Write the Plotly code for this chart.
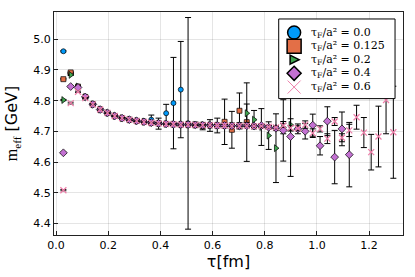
import plotly.graph_objects as go

# lattice Euclidean times (fm)
tau = [0.028, 0.056, 0.084, 0.112, 0.141, 0.169, 0.197, 0.225, 0.253, 0.281,
       0.309, 0.337, 0.365, 0.393, 0.422, 0.450, 0.478, 0.506, 0.534, 0.562,
       0.590, 0.618, 0.646, 0.674, 0.703, 0.731, 0.759, 0.787, 0.815, 0.843,
       0.871, 0.899, 0.927, 0.955, 0.984, 1.012, 1.040, 1.068, 1.096, 1.124,
       1.152, 1.180, 1.208, 1.236, 1.265, 1.293]

labels = ["0.0", "0.125", "0.2", "0.4", "0.6"]

# tau_F/a^2 = 0.0
m_00 = [4.961, 4.890, 4.845, 4.813, 4.789, 4.772, 4.761, 4.751, 4.744, 4.739,
        4.735, 4.733, 4.738, 4.725, 4.759, 4.792, 4.836, 4.726]
e_00 = [0.002, 0.002, 0.002, 0.002, 0.002, 0.002, 0.002, 0.002, 0.003, 0.003,
        0.004, 0.005, 0.015, 0.018, 0.029, 0.149, 0.157, 0.345]

# tau_F/a^2 = 0.125
m_0125 = [4.870, 4.892, 4.846, 4.812, 4.788, 4.771, 4.760, 4.750, 4.743, 4.738,
          4.734, 4.731, 4.728, 4.726, 4.724, 4.723, 4.722, 4.722, 4.721, 4.717,
          4.719, 4.719, 4.731, 4.705, 4.767, 4.730]
e_0125 = [0.002, 0.002, 0.002, 0.002, 0.002, 0.002, 0.002, 0.002, 0.002, 0.002,
          0.002, 0.003, 0.003, 0.004, 0.004, 0.005, 0.006, 0.007, 0.009, 0.012,
          0.019, 0.024, 0.074, 0.060, 0.058, 0.128]

# tau_F/a^2 = 0.2
m_02 = [4.802, 4.884, 4.846, 4.812, 4.788, 4.771, 4.760, 4.750, 4.743, 4.738,
        4.734, 4.731, 4.728, 4.726, 4.724, 4.723, 4.722, 4.722, 4.721, 4.720,
        4.720, 4.719, 4.719, 4.718, 4.718, 4.759, 4.738, 4.714, 4.686, 4.645,
        4.712, 4.721]
e_02 = [0.002, 0.002, 0.002, 0.002, 0.002, 0.002, 0.002, 0.002, 0.002, 0.002,
        0.002, 0.002, 0.002, 0.003, 0.003, 0.003, 0.004, 0.004, 0.005, 0.005,
        0.006, 0.007, 0.008, 0.009, 0.010, 0.030, 0.030, 0.060, 0.045, 0.112,
        0.020, 0.020]

# tau_F/a^2 = 0.4
m_04 = [4.630, 4.846, 4.843, 4.812, 4.788, 4.771, 4.760, 4.750, 4.743, 4.738,
        4.734, 4.731, 4.728, 4.726, 4.724, 4.723, 4.722, 4.722, 4.721, 4.720,
        4.720, 4.719, 4.719, 4.718, 4.718, 4.718, 4.717, 4.719, 4.713, 4.710,
        4.703, 4.683, 4.708, 4.700, 4.720, 4.653, 4.733, 4.616, 4.708, 4.624]
e_04 = [0.002, 0.002, 0.002, 0.002, 0.002, 0.002, 0.002, 0.002, 0.002, 0.002,
        0.002, 0.002, 0.002, 0.002, 0.002, 0.002, 0.003, 0.003, 0.003, 0.003,
        0.003, 0.003, 0.004, 0.004, 0.004, 0.004, 0.005, 0.005, 0.006, 0.007,
        0.100, 0.130, 0.016, 0.025, 0.036, 0.030, 0.047, 0.087, 0.055, 0.105]

# tau_F/a^2 = 0.6
m_06 = [4.508, 4.792, 4.829, 4.808, 4.788, 4.771, 4.760, 4.750, 4.743, 4.738,
        4.734, 4.731, 4.728, 4.726, 4.724, 4.723, 4.722, 4.722, 4.721, 4.720,
        4.720, 4.719, 4.719, 4.718, 4.718, 4.718, 4.717, 4.717, 4.715, 4.713,
        4.719, 4.711, 4.710, 4.722, 4.694, 4.708, 4.676, 4.732, 4.679, 4.703,
        4.746, 4.696, 4.632, 4.683, 4.802, 4.697]
e_06 = [0.002, 0.003, 0.002, 0.002, 0.002, 0.002, 0.002, 0.002, 0.002, 0.002,
        0.002, 0.002, 0.002, 0.002, 0.002, 0.002, 0.002, 0.002, 0.002, 0.002,
        0.003, 0.003, 0.003, 0.003, 0.003, 0.003, 0.004, 0.004, 0.004, 0.005,
        0.006, 0.007, 0.008, 0.012, 0.014, 0.010, 0.016, 0.013, 0.013, 0.020,
        0.039, 0.049, 0.058, 0.099, 0.110, 0.150]

xticks = [0.0, 0.2, 0.4, 0.6, 0.8, 1.0, 1.2]
xticklabels = ["0.0", "0.2", "0.4", "0.6", "0.8", "1.0", "1.2"]
yticks = [4.4, 4.5, 4.6, 4.7, 4.8, 4.9, 5.0]
yticklabels = ["4.4", "4.5", "4.6", "4.7", "4.8", "4.9", "5.0"]

colors = ["#009AFA", "#E36F47", "#3EA44E", "#C371D2", "#EE7FAA"]
symbols = ["circle", "square", "triangle-right", "diamond", "x-thin"]
plot_sizes = [5, 5, 6, 6, 6]

series = [(m_00, e_00), (m_0125, e_0125), (m_02, e_02), (m_04, e_04), (m_06, e_06)]

W, H = 415, 277
ML, MR, MT, MB = 53, 11, 11, 42
PW, PH = W - ML - MR, H - MT - MB


def px(xp):
    return (xp - ML) / PW


def py(yp):
    return (H - MB - yp) / PH


fig = go.Figure()
for i, (m, e) in enumerate(series):
    if symbols[i] == "x-thin":
        mk = dict(symbol="x-thin", size=plot_sizes[i], color=colors[i],
                  line=dict(color=colors[i], width=1.2))
    else:
        mk = dict(symbol=symbols[i], size=plot_sizes[i], color=colors[i],
                  line=dict(color="black", width=0.7))
    fig.add_trace(go.Scatter(
        x=tau[:len(m)], y=m, mode="markers", marker=mk, showlegend=False,
        name="τF/a² = " + labels[i],
        error_y=dict(type="data", array=e, color="black", thickness=1, width=3),
        hoverinfo="skip"))

# ---- legend box drawn as layout shapes + text annotations ----
leg_left, leg_right, leg_top, leg_bottom = 279, 396, 18, 98
sym_x = 294.5
text_x = 309
row_y = [31.7, 45.5, 58.9, 72.6, 86.4]

shapes = [dict(type="rect", xref="paper", yref="paper", layer="above",
               x0=px(leg_left), x1=px(leg_right), y0=py(leg_bottom), y1=py(leg_top),
               fillcolor="white", line=dict(color="black", width=1))]

sym_paths = [
    None,
    None,
    "M -4,-4.5 L 5,0 L -4,4.5 Z",
    "M 0,7 L 7,0 L 0,-7 L -7,0 Z",
    "M -6.5,-6.5 L 6.5,6.5 M -6.5,6.5 L 6.5,-6.5",
]
for i in range(5):
    base = dict(xref="paper", yref="paper", layer="above",
                xsizemode="pixel", ysizemode="pixel",
                xanchor=px(sym_x), yanchor=py(row_y[i]))
    if i == 0:
        base.update(type="circle", x0=-6.5, x1=6.5, y0=-6.5, y1=6.5,
                    fillcolor=colors[i], line=dict(color="black", width=1.5))
    elif i == 1:
        base.update(type="rect", x0=-7, x1=7, y0=-7, y1=7,
                    fillcolor=colors[i], line=dict(color="black", width=1.5))
    elif i == 4:
        base.update(type="path", path=sym_paths[i],
                    line=dict(color=colors[i], width=1))
    else:
        base.update(type="path", path=sym_paths[i],
                    fillcolor=colors[i], line=dict(color="black", width=1.5))
    shapes.append(base)

annotations = []
for i in range(5):
    annotations.append(dict(
        xref="paper", yref="paper", x=px(text_x), y=py(row_y[i]),
        xanchor="left", yanchor="middle", showarrow=False,
        text="τ<sub>F</sub>/a² = " + labels[i],
        font=dict(family="DejaVu Serif", size=11, color="black")))

axis_common = dict(showline=True, linecolor="#222", linewidth=1, mirror=True,
                   ticks="inside", ticklen=4, tickcolor="#222",
                   showgrid=True, gridcolor="rgba(0,0,0,0.1)", gridwidth=1,
                   zeroline=False,
                   tickfont=dict(family="DejaVu Sans", size=11, color="black"))

fig.update_layout(
    width=W, height=H,
    margin=dict(l=ML, r=MR, t=MT, b=MB),
    paper_bgcolor="white", plot_bgcolor="white",
    showlegend=False,
    xaxis=dict(range=[-0.008, 1.33], tickvals=xticks, ticktext=xticklabels,
               title=dict(text="τ[fm]", font=dict(family="DejaVu Sans", size=16, color="black"),
                          standoff=0),
               **axis_common),
    yaxis=dict(range=[4.362, 5.089], tickvals=yticks, ticktext=yticklabels,
               title=dict(text="<span style=\"font-family:'Liberation Serif'\">m<sub>eff</sub></span> [GeV]",
                          font=dict(family="DejaVu Sans", size=16, color="black"),
                          standoff=11),
               **axis_common),
    shapes=shapes,
    annotations=annotations,
)

fig.write_html("out.html",
               config={"displayModeBar": False},
               post_script="document.body.style.margin='0px';document.body.style.overflow='hidden';")
